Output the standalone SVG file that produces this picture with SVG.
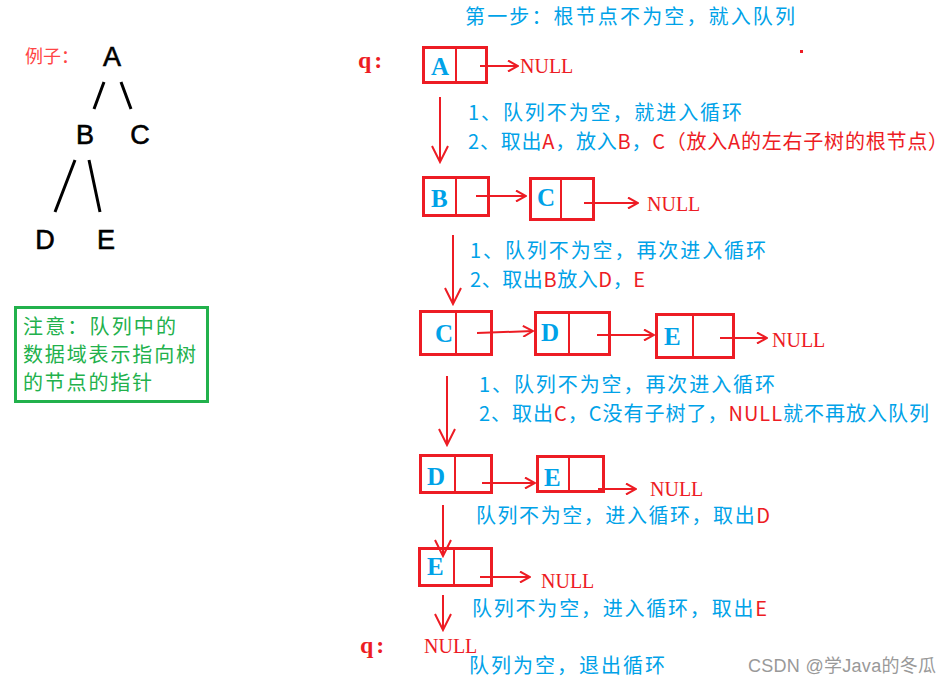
<svg xmlns="http://www.w3.org/2000/svg" width="952" height="687" viewBox="0 0 952 687">
<style>
.cn{font-family:"Noto Sans CJK SC","Noto Sans",sans-serif;font-size:20px;fill:#00a2e8}
.r{fill:#ed1c24}
.box{fill:none;stroke:#ed1c24;stroke-width:3}
.div{stroke:#ed1c24;stroke-width:2}
.val{font-family:"Liberation Serif",serif;font-size:25px;font-weight:bold;fill:#00a2e8}
.null{font-family:"Liberation Serif",serif;font-size:20px;fill:#ed1c24}
.q{font-family:"Liberation Serif",serif;font-size:24px;font-weight:bold;fill:#ed1c24;letter-spacing:3px}
.arr{fill:none;stroke:#ed1c24;stroke-width:2;marker-end:url(#h)}
.tree{stroke:#000;stroke-width:3;fill:none}
.tl{font-family:"Liberation Sans",Arial,sans-serif;font-size:27px;fill:#000;stroke:#000;stroke-width:0.6}
</style>
<defs>
<marker id="h" viewBox="0 0 12 12" refX="11" refY="6" markerWidth="12" markerHeight="12" markerUnits="userSpaceOnUse" orient="auto">
<path d="M1,0.5 L11,6 L1,11.5" fill="none" stroke="#ed1c24" stroke-width="2"/>
</marker>
<marker id="hd" viewBox="0 0 20 20" refX="10" refY="18" markerWidth="20" markerHeight="20" markerUnits="userSpaceOnUse" orient="0">
<path d="M2,2 L10,18 L18,2" fill="none" stroke="#ed1c24" stroke-width="2"/>
</marker>
</defs>
<rect width="952" height="687" fill="#fff"/>

<g id="tree">
<text x="25" y="63" class="cn" style="fill:#ff4444;font-size:18px">例子：</text>
<text x="112" y="66" class="tl" text-anchor="middle">A</text>
<text x="85" y="144" class="tl" text-anchor="middle">B</text>
<text x="140" y="144" class="tl" text-anchor="middle">C</text>
<text x="45" y="249" class="tl" text-anchor="middle">D</text>
<text x="106" y="249" class="tl" text-anchor="middle">E</text>
<path class="tree" d="M104,82 L94,109 M121,82 L131,109 M75,160 L55,212 M89,160 L100,212"/>
</g>

<g id="note">
<rect x="15.5" y="307.5" width="192" height="94" fill="none" stroke="#22b14c" stroke-width="3"/>
<text class="cn" style="fill:#22b14c" x="23" y="334" textLength="153">注意：队列中的</text>
<text class="cn" style="fill:#22b14c" x="23" y="362" textLength="173">数据域表示指向树</text>
<text class="cn" style="fill:#22b14c" x="23" y="390" textLength="129">的节点的指针</text>
</g>

<g id="title">
<text class="cn" x="465" y="24" textLength="330">第一步：根节点不为空，就入队列</text>
<rect x="800" y="50" width="3" height="3" fill="#ed1c24"/>
</g>

<g id="q1"><text class="q" x="358" y="68">q:</text></g>

<g id="row1-A">
<rect class="box" x="423.5" y="47.5" width="63" height="35"/>
<line class="div" x1="456" y1="48" x2="456" y2="82"/>
<text class="val" x="431" y="75">A</text>
</g>
<g id="null1"><text class="null" x="520" y="73">NULL</text></g>

<g id="step1">
<text class="cn" x="468" y="120" textLength="274">1、队列不为空，就进入循环</text>
<text class="cn" x="468" y="149" textLength="480">2、取出<tspan class="r">A</tspan>，放入<tspan class="r">B</tspan>，<tspan class="r">C（放入A的左右子树的根节点）</tspan></text>
</g>

<g id="row2-B">
<rect class="box" x="423.5" y="177.5" width="65" height="38"/>
<line class="div" x1="456" y1="178" x2="456" y2="215"/>
<text class="val" x="431" y="207">B</text>
</g>
<g id="row2-C">
<rect class="box" x="530.5" y="178.5" width="63" height="41"/>
<line class="div" x1="561" y1="179" x2="561" y2="219"/>
<text class="val" x="537" y="206">C</text>
</g>
<g id="null2"><text class="null" x="647" y="211">NULL</text></g>

<g id="step2">
<text class="cn" x="470" y="258" textLength="296">1、队列不为空，再次进入循环</text>
<text class="cn" x="470" y="287" textLength="175">2、取出<tspan class="r">B</tspan>放入<tspan class="r">D</tspan>，<tspan class="r">E</tspan></text>
</g>

<g id="row3-C">
<rect class="box" x="420.5" y="311.5" width="71" height="43"/>
<line class="div" x1="456" y1="312" x2="456" y2="354"/>
<text class="val" x="435" y="342">C</text>
</g>
<g id="row3-D">
<rect class="box" x="535.5" y="312.5" width="74" height="42"/>
<line class="div" x1="569" y1="313" x2="569" y2="354"/>
<text class="val" x="541" y="341">D</text>
</g>
<g id="row3-E">
<rect class="box" x="656.5" y="314.5" width="77" height="43"/>
<line class="div" x1="693" y1="315" x2="693" y2="357"/>
<text class="val" x="664" y="345">E</text>
</g>
<g id="null3"><text class="null" x="772" y="347">NULL</text></g>

<g id="step3">
<text class="cn" x="479" y="392" textLength="296">1、队列不为空，再次进入循环</text>
<text class="cn" x="479" y="421" textLength="450">2、取出<tspan class="r">C</tspan>，C没有子树了，<tspan class="r">NULL</tspan>就不再放入队列</text>
</g>

<g id="row4-D">
<rect class="box" x="420.5" y="455.5" width="71" height="37"/>
<line class="div" x1="455" y1="456" x2="455" y2="492"/>
<text class="val" x="427" y="485">D</text>
</g>
<g id="row4-E">
<rect class="box" x="537.5" y="456.5" width="66" height="35"/>
<line class="div" x1="569" y1="457" x2="569" y2="491"/>
<text class="val" x="544" y="486">E</text>
</g>
<g id="null4"><text class="null" x="650" y="496">NULL</text></g>

<g id="step4">
<text class="cn" x="476" y="523" textLength="294">队列不为空，进入循环，取出<tspan class="r">D</tspan></text>
</g>

<g id="row5-E">
<rect class="box" x="419.5" y="548.5" width="72" height="37"/>
<line class="div" x1="454" y1="549" x2="454" y2="585"/>
<text class="val" x="427" y="575">E</text>
</g>
<g id="null5"><text class="null" x="541" y="588">NULL</text></g>

<g id="step5">
<text class="cn" x="472" y="616" textLength="295">队列不为空，进入循环，取出<tspan class="r">E</tspan></text>
</g>

<g id="q2"><text class="q" x="360" y="653">q:</text></g>
<g id="null6"><text class="null" x="424" y="653">NULL</text></g>
<g id="end">
<text class="cn" x="469" y="673" textLength="196">队列为空，退出循环</text>
</g>

<g id="watermark">
<text x="748" y="672" font-family="'Liberation Sans','Noto Sans CJK SC',sans-serif" font-size="18" fill="#999" textLength="188">CSDN @学Java的冬瓜</text>
</g>

<g id="connectors">
<path class="arr" d="M480,66 L518,66"/>
<path d="M440,97 L440,162" fill="none" stroke="#ed1c24" stroke-width="2" marker-end="url(#hd)"/>
<path class="arr" d="M476,196 L526,196"/>
<path class="arr" d="M584,203 L638,203"/>
<path d="M453,235 L453,304" fill="none" stroke="#ed1c24" stroke-width="2" marker-end="url(#hd)"/>
<path class="arr" d="M477,333 L533,331"/>
<path class="arr" d="M597,335 L654,335"/>
<path class="arr" d="M720,338 L767,338"/>
<path d="M447,376 L447,445" fill="none" stroke="#ed1c24" stroke-width="2" marker-end="url(#hd)"/>
<path class="arr" d="M482,483 L535,483"/>
<path class="arr" d="M598,489 L636,489"/>
<path d="M443,505 L443,556" fill="none" stroke="#ed1c24" stroke-width="2" marker-end="url(#hd)"/>
<path class="arr" d="M480,577 L530,577"/>
<path d="M443,595 L443,630" fill="none" stroke="#ed1c24" stroke-width="2" marker-end="url(#hd)"/>
</g>
</svg>
